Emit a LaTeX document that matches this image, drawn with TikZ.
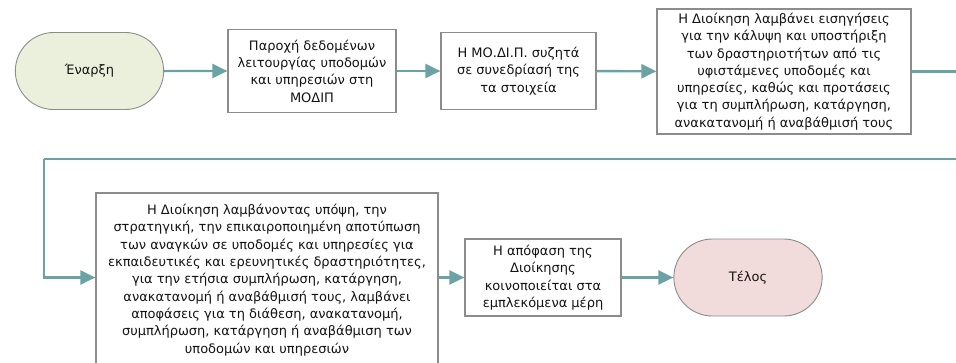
\documentclass[tikz,border=0pt]{standalone}
\usepackage{fontspec}
\setmainfont{DejaVu Sans}
\usepackage{xcolor}
\usepackage{tikz}
\usetikzlibrary{arrows.meta}
\definecolor{flowteal}{HTML}{6BA3A5}
\definecolor{boxgray}{HTML}{8C8C8C}
\definecolor{startfill}{HTML}{EBF0DC}
\definecolor{endfill}{HTML}{F2DCDB}
\definecolor{txt}{HTML}{141414}
\tikzset{
	terminal/.style={rounded rectangle,draw=boxgray,line width=0.9pt,text=txt,
		minimum width=155pt,minimum height=77pt,font=\fontsize{13}{17.3}\selectfont},
	stepbox/.style={rectangle,draw=boxgray,line width=1.2pt,fill=white,text=txt,align=center,
		inner sep=0pt,font=\fontsize{13}{17.3}\selectfont},
	flow/.style={draw=flowteal,line width=2.4pt,-{Triangle[length=15pt,width=14pt]}}
}
\usetikzlibrary{shapes.misc}

\begin{document}
\begin{tikzpicture}[x=1pt,y=-1pt]
	\useasboundingbox (0,0) rectangle (956,362);
	\node [terminal,fill=startfill] (start) at (89.5,71) {Έναρξη};
	\node [stepbox,minimum width=168pt,minimum height=83pt] (data) at (312,71)
		{Παροχή δεδομένων\\λειτουργίας υποδομών\\και υπηρεσιών στη\\ΜΟΔΙΠ};
	\node [stepbox,minimum width=155pt,minimum height=77pt] (meet) at (518.5,71)
		{Η ΜΟ.ΔΙ.Π. συζητά\\σε συνεδρίασή της\\τα στοιχεία};
	\node [stepbox,minimum width=254pt,minimum height=125pt] (prop) at (784,71.5)
		{Η Διοίκηση λαμβάνει εισηγήσεις\\για την κάλυψη και υποστήριξη\\των δραστηριοτήτων από τις\\υφιστάμενες υποδομές και\\υπηρεσίες, καθώς και προτάσεις\\για τη συμπλήρωση, κατάργηση,\\ανακατανομή ή αναβάθμισή τους};
	\node [stepbox,minimum width=342pt,minimum height=174pt] (decide) at (267,280)
		{Η Διοίκηση λαμβάνοντας υπόψη, την\\στρατηγική, την επικαιροποιημένη αποτύπωση\\των αναγκών σε υποδομές και υπηρεσίες για\\εκπαιδευτικές και ερευνητικές δραστηριότητες,\\για την ετήσια συμπλήρωση, κατάργηση,\\ανακατανομή ή αναβάθμισή τους, λαμβάνει\\αποφάσεις για τη διάθεση, ανακατανομή,\\συμπλήρωση, κατάργηση ή αναβάθμιση των\\υποδομών και υπηρεσιών};
	\node [stepbox,minimum width=156pt,minimum height=77pt] (notify) at (543,277.5)
		{Η απόφαση της\\Διοίκησης\\κοινοποιείται στα\\εμπλεκόμενα μέρη};
	\node [terminal,fill=endfill] (end) at (748,277.5) {Τέλος};
	\coordinate (turn) at (980,159);
	\coordinate (back) at (44,159);
	% connectors
	\draw [flow] (start) -- (data);
	\draw [flow] (data) -- (meet);
	\draw [flow] (meet) -- (prop);
	\draw [flow,-] (prop.east) -| (turn) -- (back);
	\draw [flow] (back) |- (decide.west |- notify);
	\draw [flow] (decide.east |- notify) -- (notify);
	\draw [flow] (notify) -- (end);
\end{tikzpicture}
\end{document}
